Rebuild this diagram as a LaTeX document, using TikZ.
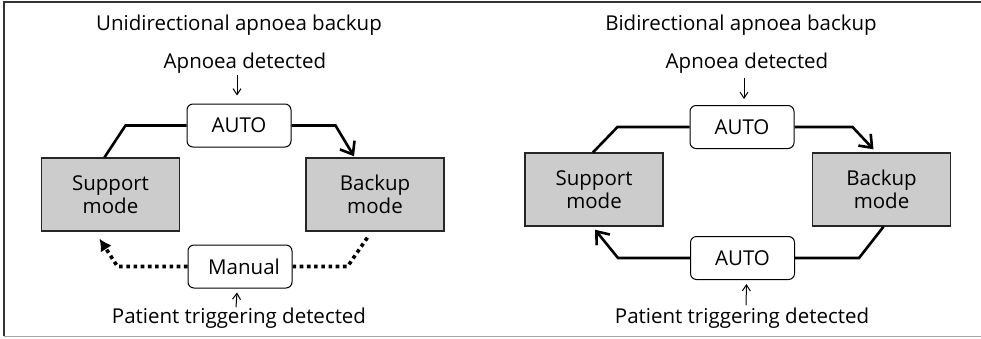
\documentclass[tikz,border=0pt]{standalone}
\usepackage{fontspec}
\setmainfont{Open Sans}
\usetikzlibrary{arrows.meta}

\begin{document}
\begin{tikzpicture}[x=1pt,y=-1pt,>=Latex,font=\fontsize{20.5}{23}\selectfont,
  modebox/.style={draw=black!85,line width=1.4pt,fill=black!20,minimum width=138pt,minimum height=73pt,align=center,inner sep=0pt},
  switchbox/.style={draw,line width=1pt,rounded corners=6pt,fill=white,minimum width=104pt,minimum height=43pt,inner sep=0pt},
  linkline/.style={line width=2.6pt,line join=miter},
  dotline/.style={line width=3.6pt,dash pattern=on 3.6pt off 3.6pt},
  mainhead/.style={-{Straight Barb[length=11pt,width=17pt]}},
  sensearrow/.style={-{Straight Barb[length=6pt,width=8pt]},line width=1pt}]
\useasboundingbox (0,0) rectangle (981,338);
% frame
\draw[black!80,line width=1.5pt] (981,2) -- (4,2) -- (4,336);
\draw[black!35,line width=1.5pt] (4,336.5) -- (981,336.5);

% unidirectional
\node (titleL) at (239,25) {Unidirectional apnoea backup};
\node (apnL) at (245,63) {Apnoea detected};
\node[switchbox] (autoL) at (239,125.5) {AUTO};
\node[modebox] (supL) at (110.5,194.5) {Support\\mode};
\node[modebox] (bakL) at (375,194.5) {Backup\\mode};
\node[switchbox] (manL) at (240,266.5) {\hspace{8pt}Manual};
\node (patL) at (239,318) {Patient triggering detected};

\draw[linkline] (autoL.west) -- ++(-61,0) -- ([xshift=-6pt]supL.north);
\draw[linkline,mainhead] (autoL.east) -- ++(44,0) -- ([xshift=-21pt,yshift=1pt]bakL.north);
\draw[dotline] (manL.east) -- ++(55,0) -- ([xshift=-7pt,yshift=-5pt]bakL.south);
\draw[dotline,-{Latex[length=12pt,width=13pt]}] (manL.west) -- ++(-70,0) -- ([xshift=-11pt,yshift=-7pt]supL.south);
\draw[sensearrow] (apnL.south -| autoL.north) ++(-2,-2) -- ([xshift=-2pt,yshift=8pt]autoL.north);
\draw[sensearrow] ([xshift=-3pt,yshift=-3pt]patL.north) -- ([xshift=-3pt,yshift=-4pt]manL.south);

% bidirectional
\node (titleR) at (741,25) {Bidirectional apnoea backup};
\node (apnR) at (747,63) {Apnoea detected};
\node[switchbox] (autoR) at (742,127) {AUTO};
\node[modebox] (supR) at (594,189.5) {Support\\mode};
\node[modebox] (bakR) at (881.5,189.5) {Backup\\mode};
\node[switchbox] (autoRb) at (742.5,258) {AUTO};
\node (patR) at (742,318) {Patient triggering detected};

\draw[linkline] (autoR.west) -- ++(-72,0) -- ([xshift=-1pt]supR.north);
\draw[linkline,mainhead] (autoR.east) -- ++(58,0) -- ([xshift=-8pt,yshift=3pt]bakR.north);
\draw[linkline] (autoRb.east) -- ++(64,0) -- ([xshift=2pt]bakR.south);
\draw[linkline,mainhead] (autoRb.west) -- ++(-72,0) -- ([xshift=1pt,yshift=-3pt]supR.south);
\draw[sensearrow] (apnR.south -| autoR.north) ++(2,1) -- ([xshift=2pt,yshift=6pt]autoR.north);
\draw[sensearrow] ([xshift=4pt,yshift=-1pt]patR.north) -- ([xshift=4pt,yshift=-4pt]autoRb.south);
\end{tikzpicture}
\end{document}
